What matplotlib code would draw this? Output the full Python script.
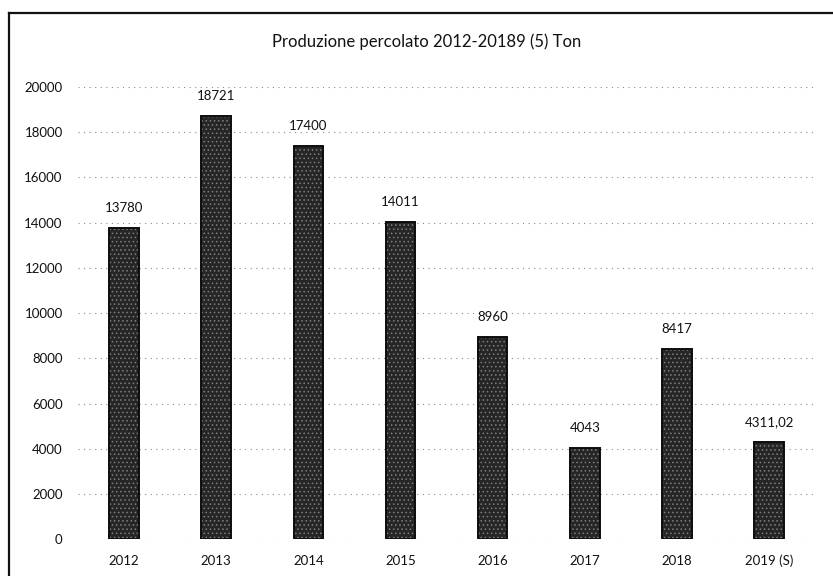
import matplotlib
matplotlib.use("Agg")
import matplotlib.pyplot as plt
from matplotlib.lines import Line2D

years = ["2012", "2013", "2014", "2015", "2016", "2017", "2018", "2019 (S)"]
tons = [13780, 18721, 17400, 14011, 8960, 4043, 8417, 4311.02]
value_labels = ["13780", "18721", "17400", "14011", "8960", "4043", "8417", "4311,02"]
y_ticks = [0, 2000, 4000, 6000, 8000, 10000, 12000, 14000, 16000, 18000, 20000]
title = "Produzione percolato 2012-20189 (5) Ton"

plt.rcParams["font.family"] = ["Lato", "DejaVu Sans"]
plt.rcParams["hatch.linewidth"] = 0.6

fig = plt.figure(figsize=(8.33, 5.76), dpi=100)
fig.patch.set_facecolor("white")
ax = fig.add_axes([0.0936, 0.0634, 0.885, 0.786])

x = list(range(len(years)))
# textured dark bars (scan look), then a dark outline on top
ax.bar(x, tons, width=0.32, color="#262626", edgecolor="#7e7e7e",
       hatch="....", linewidth=0, zorder=3)
ax.bar(x, tons, width=0.32, fill=False, edgecolor="#0d0d0d",
       linewidth=1.4, zorder=4)

for xi, v, lab in zip(x, tons, value_labels):
    ax.annotate(lab, (xi, v), xytext=(0, 10), textcoords="offset points",
                ha="center", va="bottom", fontsize=9.5, color="#111111")

ax.set_xlim(-0.5, len(years) - 0.5)
ax.set_ylim(0, 20000)
ax.set_yticks(y_ticks)
ax.set_yticklabels([str(t) for t in y_ticks])
ax.set_xticks(x)
ax.set_xticklabels(years)
ax.tick_params(axis="both", length=0, labelsize=9.5, colors="#111111")
ax.tick_params(axis="y", pad=11)
ax.tick_params(axis="x", pad=11)

ax.grid(axis="y", color="#8a8a8a", linestyle=(0, (1, 4)), linewidth=0.8, zorder=0)
for s in ax.spines.values():
    s.set_visible(False)

fig.text(0.512, 0.928, title, ha="center", va="center", fontsize=12, color="#111111")

# scanned frame: left and top edges only
fig.add_artist(Line2D([9 / 833, 9 / 833], [0, 1 - 13 / 576], color="#111111", lw=1.6))
fig.add_artist(Line2D([9 / 833, 1], [1 - 13 / 576, 1 - 13 / 576], color="#111111", lw=1.6))

fig.savefig("out.png", dpi=100, facecolor="white")
